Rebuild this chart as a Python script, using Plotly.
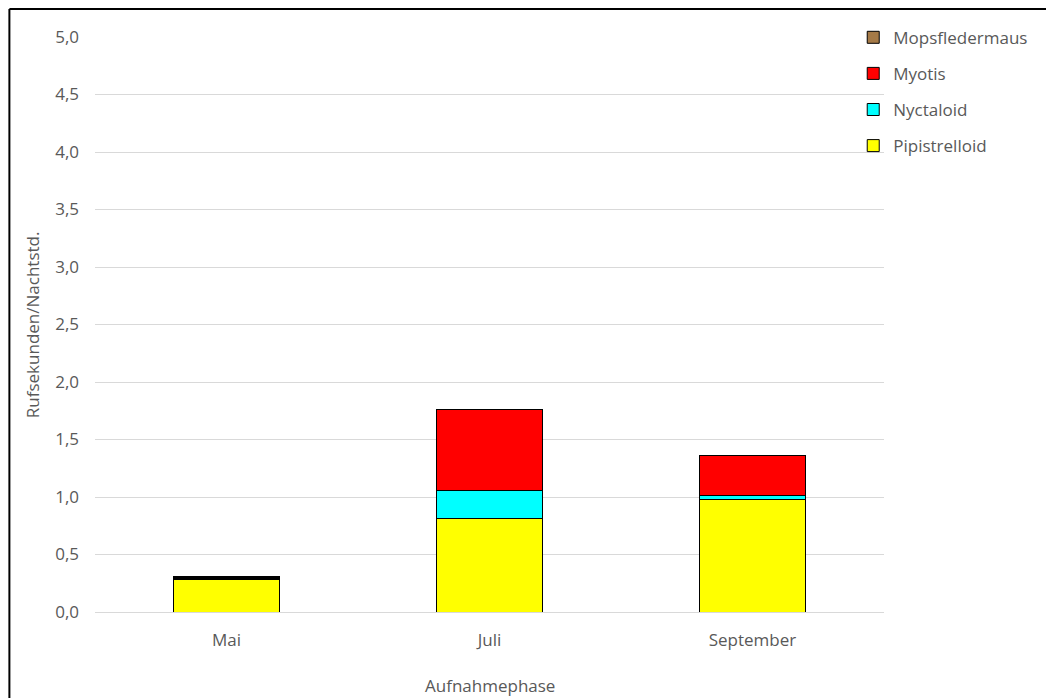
import plotly.graph_objects as go

# Recording phases and call seconds per night hour for each species group
phases = ["Mai", "Juli", "September"]
pipistrelloid = [0.28, 0.81, 0.975]
nyctaloid = [0.012, 0.25, 0.035]
myotis = [0.004, 0.70, 0.35]
mopsfledermaus = [0.012, 0.0, 0.0]

series = [
    ("Pipistrelloid", pipistrelloid, "#ffff00", 4),
    ("Nyctaloid", nyctaloid, "#00ffff", 3),
    ("Myotis", myotis, "#ff0000", 2),
    ("Mopsfledermaus", mopsfledermaus, "#a57a47", 1),
]

y_ticks = [0, 0.5, 1.0, 1.5, 2.0, 2.5, 3.0, 3.5, 4.0, 4.5, 5.0]

fig = go.Figure()
for name, values, color, rank in series:
    fig.add_trace(go.Bar(
        x=phases, y=values, name=name, legendgroup=name, legendrank=rank,
        marker=dict(color=color, line=dict(color="#000000", width=1)),
    ))

text_font = dict(family="Open Sans, sans-serif", size=17, color="#595959")

fig.update_layout(
    barmode="stack",
    bargap=0.6,
    width=1046, height=698,
    margin=dict(l=95, r=162, t=37, b=86),
    paper_bgcolor="white", plot_bgcolor="white",
    separators=", ",
    font=text_font,
    showlegend=True,
    legend=dict(
        x=0.961, y=1.03, xanchor="left", yanchor="top",
        traceorder="grouped", tracegroupgap=11,
        font=text_font,
        itemwidth=30, bgcolor="rgba(0,0,0,0)",
    ),
    xaxis=dict(
        showline=True, linecolor="#d9d9d9", linewidth=1,
        showgrid=False, ticks="", ticklabelstandoff=13,
        tickfont=text_font,
    ),
    yaxis=dict(
        range=[0, 5.0], tickvals=y_ticks, tickformat=".1f",
        showgrid=True, gridcolor="#d9d9d9", gridwidth=1,
        zeroline=False, showline=False, ticks="",
        ticklabelstandoff=15, tickfont=text_font,
    ),
    annotations=[
        dict(text="Rufsekunden/Nachtstd.", xref="paper", yref="paper",
             x=-0.079, y=0.5, textangle=-90, showarrow=False,
             xanchor="center", yanchor="middle", font=text_font),
        dict(text="Aufnahmephase", xref="paper", yref="paper",
             x=0.5, y=-0.127, showarrow=False,
             xanchor="center", yanchor="middle", font=text_font),
    ],
    shapes=[
        # chart frame (left and top edges visible within the page)
        dict(type="line", xref="paper", yref="paper",
             x0=-0.1085, x1=1.3, y0=1.0485, y1=1.0485,
             line=dict(color="#000000", width=2)),
        dict(type="line", xref="paper", yref="paper",
             x0=-0.1085, x1=-0.1085, y0=1.0485, y1=-0.2,
             line=dict(color="#000000", width=2)),
    ],
)

fig.write_html("out.html")
